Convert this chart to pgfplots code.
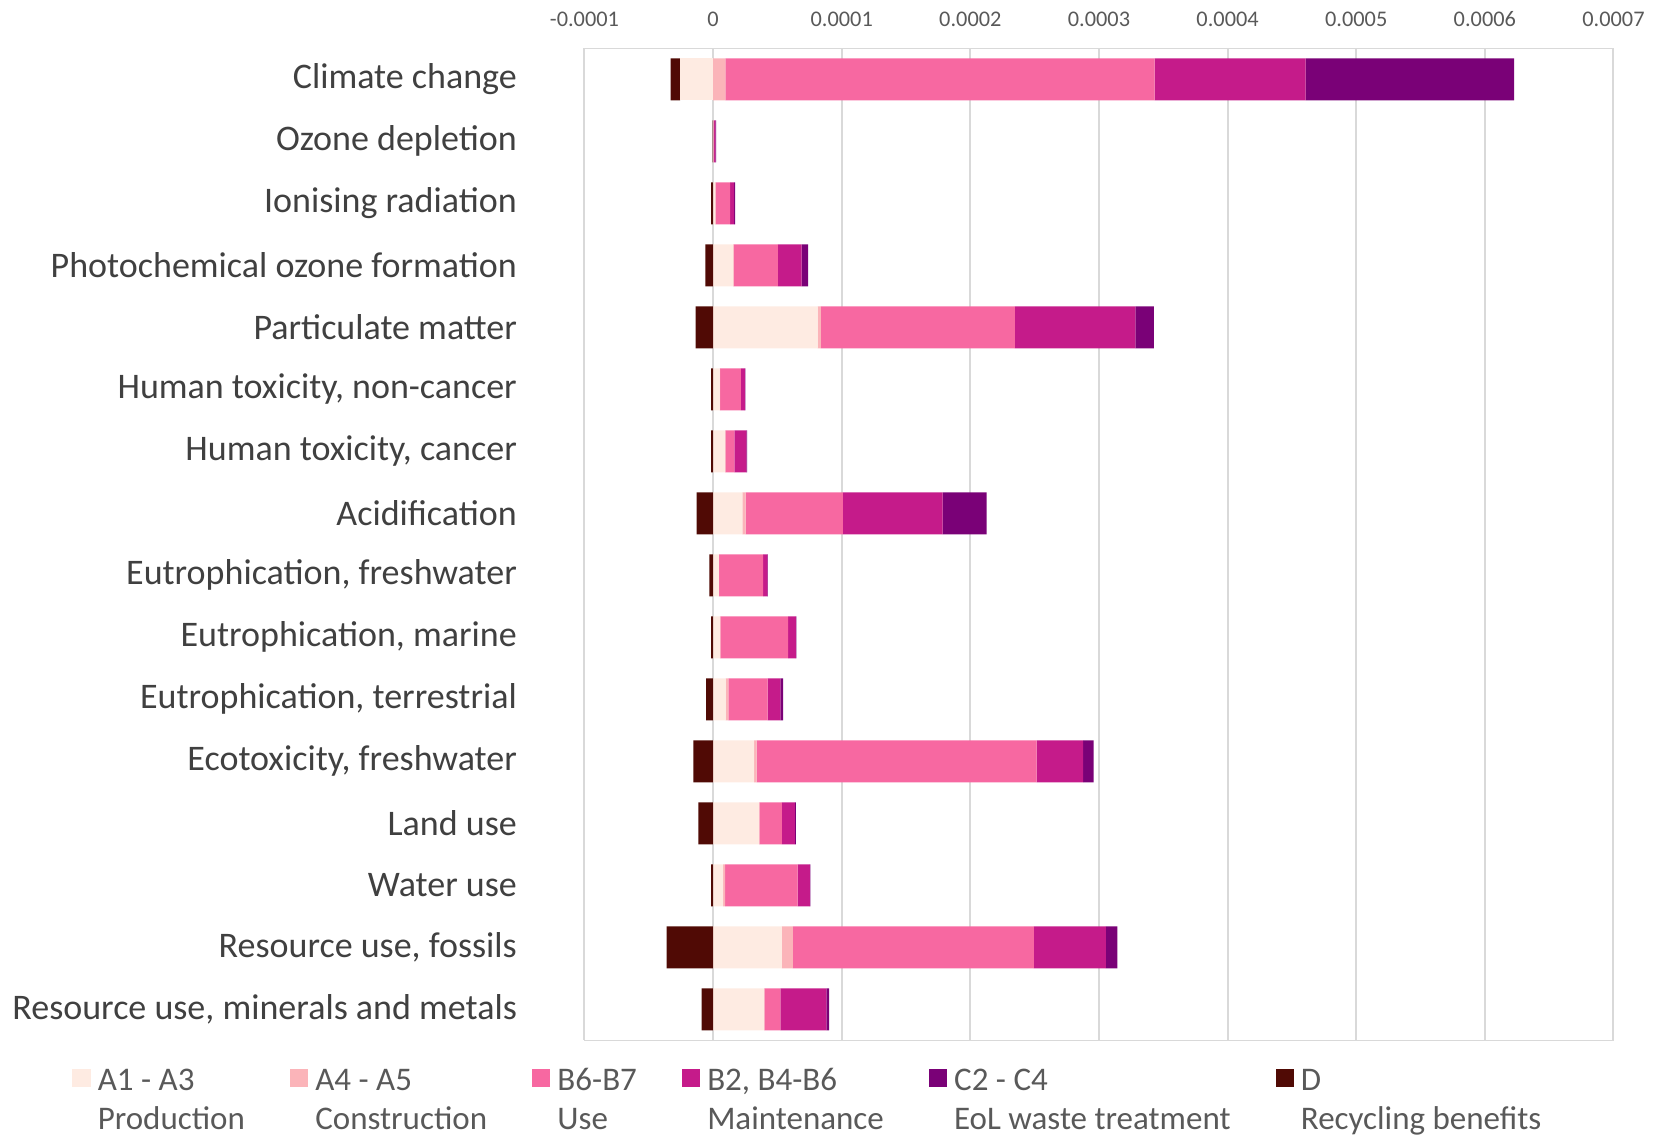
\documentclass[border=0pt]{standalone}
\usepackage{pgfplots}
\pgfplotsset{compat=1.18}
\usepackage{pgfplotstable}
\usepackage{fontspec}
\setmainfont{Carlito}

% life-cycle stage colours
\definecolor{cAone}{HTML}{FEEBE2}
\definecolor{cAfour}{HTML}{FBB4B9}
\definecolor{cBsix}{HTML}{F768A1}
\definecolor{cBtwo}{HTML}{C51B8A}
\definecolor{cCtwo}{HTML}{7A0177}
\definecolor{cD}{HTML}{500A05}
\definecolor{gridgray}{HTML}{D9D9D9}
\definecolor{labelgray}{HTML}{404040}
\definecolor{tickgray}{HTML}{595959}

% positive contributions per impact category (stacked from zero)
\pgfplotstableread{
row A13      A45     B67       B2        C2
0   0        9.5e-6  333.8e-6  117.3e-6  162.2e-6
1   0.2e-6   0       0.6e-6    1.0e-6    0.6e-6
2   1.5e-6   0.5e-6  11.3e-6   3.0e-6    0.9e-6
3   15.5e-6  0.5e-6  34.3e-6   18.5e-6   5.1e-6
4   81.3e-6  2.4e-6  151.0e-6  93.6e-6   14.3e-6
5   5.0e-6   0.5e-6  16.0e-6   3.2e-6    0.4e-6
6   9.3e-6   0.3e-6  7.0e-6    9.3e-6    0.5e-6
7   22.8e-6  2.5e-6  75.6e-6   77.5e-6   34.2e-6
8   4.4e-6   0.3e-6  34.1e-6   3.4e-6    0.3e-6
9   5.2e-6   0.5e-6  52.7e-6   6.0e-6    0.3e-6
10  9.8e-6   2.1e-6  30.5e-6   9.8e-6    2.3e-6
11  31.8e-6  2.1e-6  217.7e-6  36.0e-6   8.3e-6
12  35.7e-6  0.3e-6  17.5e-6   10.1e-6   0.8e-6
13  7.8e-6   1.5e-6  56.4e-6   9.6e-6    0.3e-6
14  53.5e-6  8.6e-6  187.2e-6  56.1e-6   8.8e-6
15  39.6e-6  0.3e-6  12.4e-6   35.7e-6   2.1e-6
}\posdata

% negative contributions (stacked leftwards from zero)
\pgfplotstableread{
row A13       D
0   -25.6e-6  -7.4e-6
1   0         -0.3e-6
2   0         -1.5e-6
3   0         -6.0e-6
4   0         -13.7e-6
5   0         -1.5e-6
6   0         -1.5e-6
7   0         -12.9e-6
8   0         -3.0e-6
9   0         -1.5e-6
10  0         -5.4e-6
11  0         -15.3e-6
12  0         -11.4e-6
13  0         -1.5e-6
14  0         -36.2e-6
15  0         -9.0e-6
}\negdata

\pgfplotsset{
  lcabase/.style={
    scale only axis,
    width=308.7pt, height=297.6pt,
    xbar stacked, bar width=12.6pt,
    xmin=-0.0001, xmax=0.0007,
    ymin=-0.5, ymax=15.5, y dir=reverse,
  },
}

\begin{document}
\begin{tikzpicture}
\path[use as bounding box] (-175.35pt,-28.4pt) rectangle (322.05pt,312.1pt);

\begin{axis}[
  lcabase,
  axis line style={draw=gridgray, line width=0.5pt},
  xmajorgrids,
  grid style={draw=gridgray, line width=0.6pt},
  major tick length=0pt,
  xtick={-0.0001,0,0.0001,0.0002,0.0003,0.0004,0.0005,0.0006,0.0007},
  xticklabels={-0.0001,0,0.0001,0.0002,0.0003,0.0004,0.0005,0.0006,0.0007},
  xticklabel pos=upper,
  xticklabel style={font=\fontsize{6.7}{8}\selectfont, text=tickgray, inner sep=0pt, yshift=6.3pt},
  ytick={0,...,15},
  yticklabels={Climate change, Ozone depletion, Ionising radiation,
    Photochemical ozone formation, Particulate matter,
    {Human toxicity, non-cancer}, {Human toxicity, cancer}, Acidification,
    {Eutrophication, freshwater}, {Eutrophication, marine},
    {Eutrophication, terrestrial}, {Ecotoxicity, freshwater}, Land use,
    Water use, {Resource use, fossils}, {Resource use, minerals and metals}},
  yticklabel style={font=\fontsize{10.8}{13}\selectfont, text=labelgray, inner sep=0pt, xshift=-20.1pt},
  legend columns=6,
  legend cell align=left,
  legend image code/.code={\fill[#1] (0pt,4.4pt) rectangle (5.5pt,9.9pt);},
  legend style={
    at={(-0.4976,-0.0282)}, anchor=north west,
    draw=none, fill=none, inner sep=0pt, outer sep=0pt,
    font=\fontsize{9.9}{11.8}\selectfont, text=tickgray,
    nodes={inner sep=0pt, align=left},
    column sep=0pt,
    /tikz/every odd column/.append style={column sep=2.1pt},
    /tikz/every even column/.append style={column sep=13.5pt},
  },
]
\addplot[fill=cAone, draw=none]  table[x=A13, y=row] {\posdata};
\addplot[fill=cAfour, draw=none] table[x=A45, y=row] {\posdata};
\addplot[fill=cBsix, draw=none]  table[x=B67, y=row] {\posdata};
\addplot[fill=cBtwo, draw=none]  table[x=B2, y=row] {\posdata};
\addplot[fill=cCtwo, draw=none]  table[x=C2, y=row] {\posdata};
\addlegendimage{fill=cD, draw=none}
\legend{{A1 - A3\\Production}, {A4 - A5\\Construction}, {B6-B7\\Use},
  {B2, B4-B6\\Maintenance}, {C2 - C4\\EoL waste treatment}, {D\\Recycling benefits}}
\end{axis}

\begin{axis}[lcabase, hide axis]
\addplot[fill=cAone, draw=none] table[x=A13, y=row] {\negdata};
\addplot[fill=cD, draw=none]    table[x=D, y=row] {\negdata};
\end{axis}
\end{tikzpicture}
\end{document}
